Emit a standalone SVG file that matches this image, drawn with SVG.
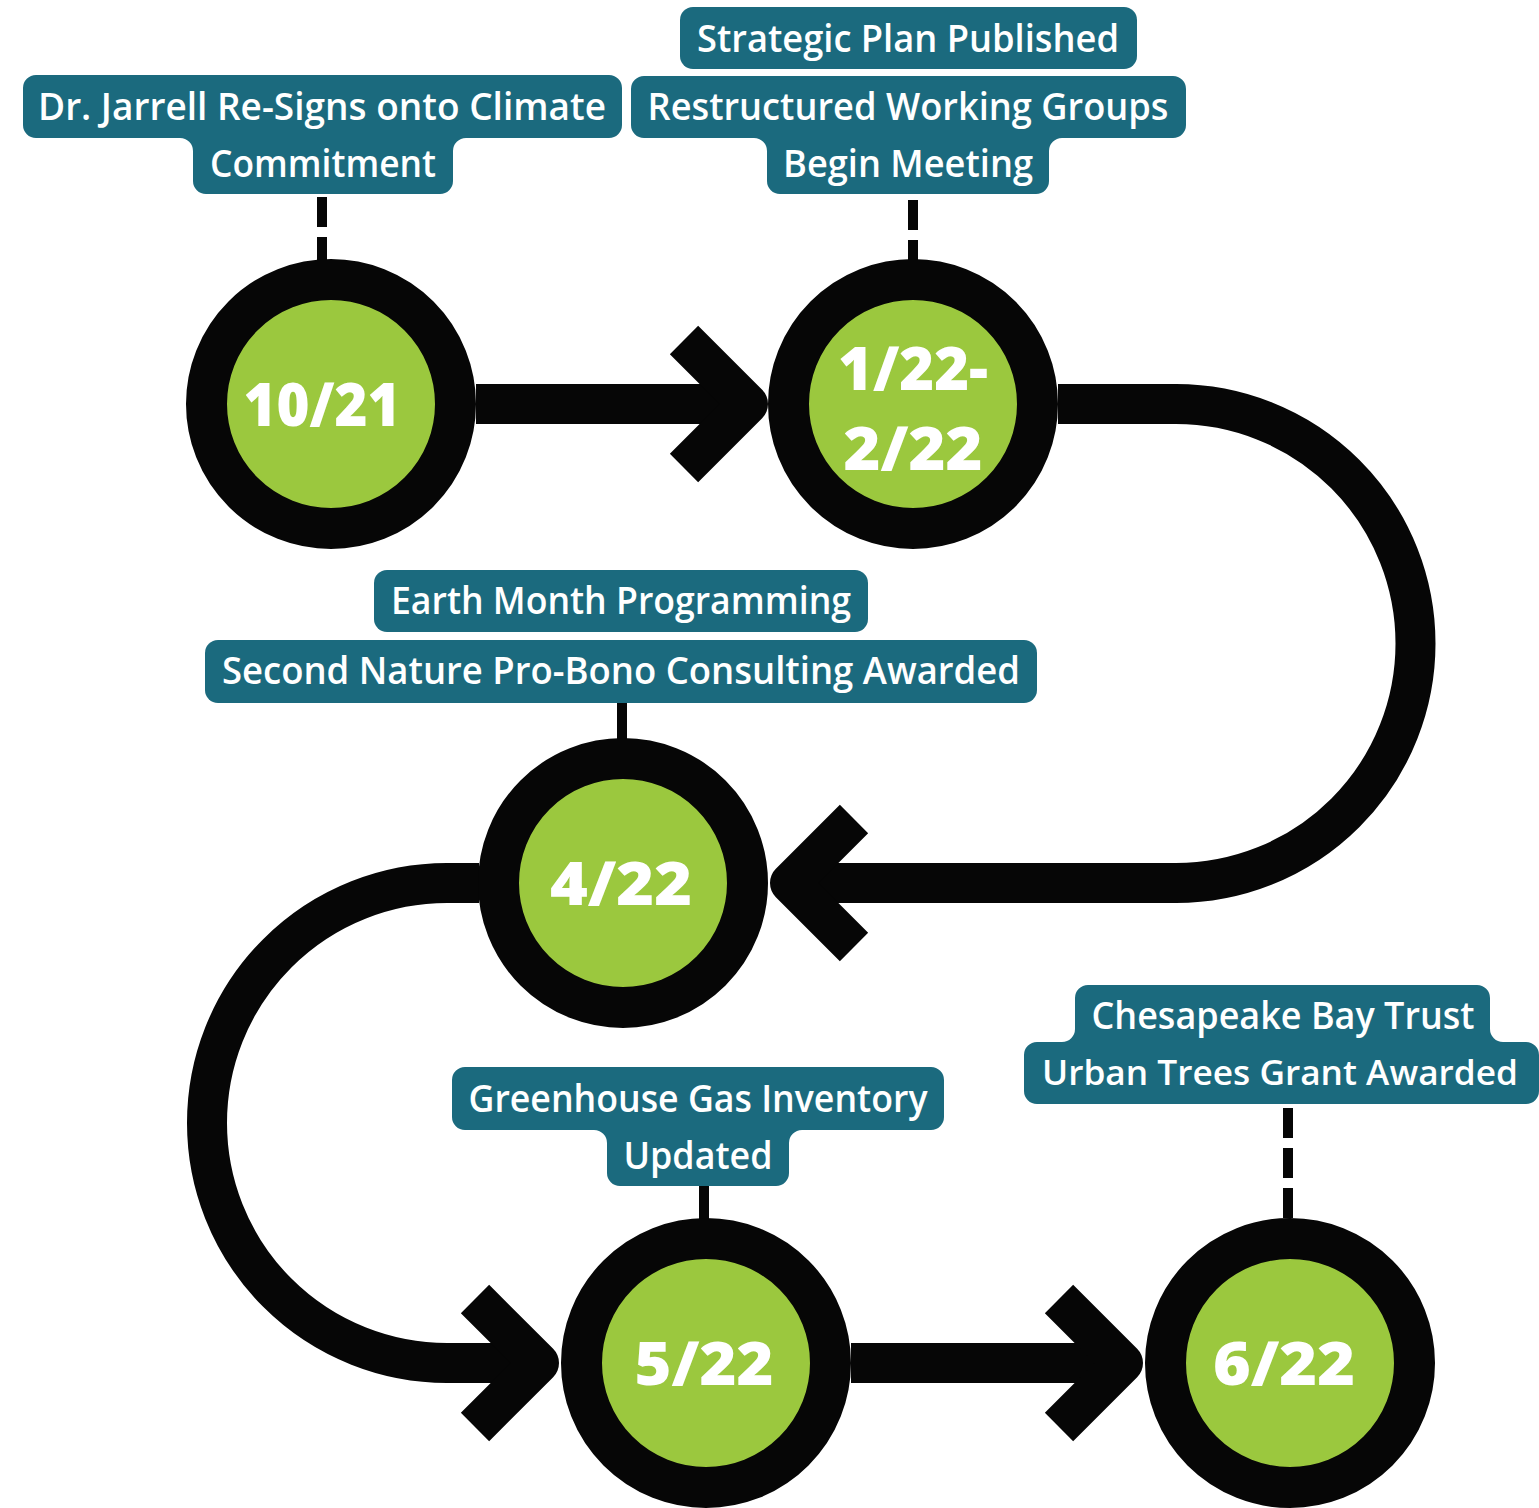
<svg xmlns="http://www.w3.org/2000/svg" width="1539" height="1508" viewBox="0 0 1539 1508">
<style>
.box{fill:#1b6a7e}
.lbl{font-family:"Open Sans","Liberation Sans",sans-serif;font-size:38px;font-weight:600;fill:#ffffff;text-anchor:middle}
.date{font-family:"Open Sans","Liberation Sans",sans-serif;font-size:60px;font-weight:800;fill:#ffffff;text-anchor:middle}
.ring{fill:#9bc83e;stroke:#060606;stroke-width:41}
.path{fill:none;stroke:#060606;stroke-width:40}
.chev{fill:none;stroke:#060606;stroke-width:40;stroke-linejoin:round;stroke-linecap:butt}
.tick{stroke:#060606;stroke-width:10}
.dash{stroke:#060606;stroke-width:10;stroke-dasharray:30 10}
</style>
<rect width="1539" height="1508" fill="#ffffff"/>
<g id="connectors">
  <path class="path" d="M476 404 H748"/>
  <path class="chev" d="M684 340 L748 404 L684 468"/>
  <path class="path" d="M1058 404 H1176 A239.5 239.5 0 0 1 1176 883 H790"/>
  <path class="chev" d="M854 819 L790 883 L854 947"/>
  <path class="path" d="M479 883 H447 A240 240 0 0 0 447 1363 H539"/>
  <path class="chev" d="M475 1299 L539 1363 L475 1427"/>
  <path class="path" d="M851 1363 H1123"/>
  <path class="chev" d="M1059 1299 L1123 1363 L1059 1427"/>
  <line class="dash" x1="322" y1="197" x2="322" y2="262"/>
  <line class="dash" x1="913" y1="200" x2="913" y2="262"/>
  <line class="tick" x1="622" y1="703" x2="622" y2="742"/>
  <line class="tick" x1="704" y1="1186" x2="704" y2="1222"/>
  <line class="dash" x1="1288" y1="1108" x2="1288" y2="1222"/>
</g>
<g id="node-1021">
  <circle class="ring" cx="331" cy="404" r="124.5"/>
  <text class="date" x="322" y="426" textLength="157" lengthAdjust="spacingAndGlyphs">10/21</text>
</g>
<g id="node-122">
  <circle class="ring" cx="913" cy="404" r="124.5"/>
  <text class="date" x="913" y="390" textLength="150" lengthAdjust="spacingAndGlyphs">1/22-</text>
  <text class="date" x="913" y="470" textLength="139" lengthAdjust="spacingAndGlyphs">2/22</text>
</g>
<g id="node-422">
  <circle class="ring" cx="623" cy="883" r="124.5"/>
  <text class="date" x="621" y="905" textLength="142" lengthAdjust="spacingAndGlyphs">4/22</text>
</g>
<g id="node-522">
  <circle class="ring" cx="706" cy="1363" r="124.5"/>
  <text class="date" x="704" y="1385" textLength="139" lengthAdjust="spacingAndGlyphs">5/22</text>
</g>
<g id="node-622">
  <circle class="ring" cx="1290" cy="1363" r="124.5"/>
  <text class="date" x="1284" y="1385" textLength="142" lengthAdjust="spacingAndGlyphs">6/22</text>
</g>
<g id="label-1">
  <path class="box" d="M36 75 H609 A13 13 0 0 1 622 88 V125 A13 13 0 0 1 609 138 H466 A13 13 0 0 0 453 151 V181 A13 13 0 0 1 440 194 H206 A13 13 0 0 1 193 181 V151 A13 13 0 0 0 180 138 H36 A13 13 0 0 1 23 125 V88 A13 13 0 0 1 36 75 Z"/>
  <text class="lbl" x="322" y="120" textLength="568" lengthAdjust="spacingAndGlyphs">Dr. Jarrell Re-Signs onto Climate</text>
  <text class="lbl" x="323" y="177" textLength="226" lengthAdjust="spacingAndGlyphs">Commitment</text>
</g>
<g id="label-2a">
  <rect class="box" x="680" y="7" width="457" height="62" rx="13"/>
  <text class="lbl" x="908" y="52" textLength="422" lengthAdjust="spacingAndGlyphs">Strategic Plan Published</text>
</g>
<g id="label-2b">
  <path class="box" d="M644 76 H1173 A13 13 0 0 1 1186 89 V125 A13 13 0 0 1 1173 138 H1062 A13 13 0 0 0 1049 151 V181 A13 13 0 0 1 1036 194 H780 A13 13 0 0 1 767 181 V151 A13 13 0 0 0 754 138 H644 A13 13 0 0 1 631 125 V89 A13 13 0 0 1 644 76 Z"/>
  <text class="lbl" x="908" y="120" textLength="521" lengthAdjust="spacingAndGlyphs">Restructured Working Groups</text>
  <text class="lbl" x="908" y="177" textLength="250" lengthAdjust="spacingAndGlyphs">Begin Meeting</text>
</g>
<g id="label-3a">
  <rect class="box" x="374" y="570" width="494" height="62" rx="13"/>
  <text class="lbl" x="621" y="614" textLength="460" lengthAdjust="spacingAndGlyphs">Earth Month Programming</text>
</g>
<g id="label-3b">
  <rect class="box" x="205" y="640" width="832" height="63" rx="13"/>
  <text class="lbl" x="621" y="684" textLength="798" lengthAdjust="spacingAndGlyphs">Second Nature Pro-Bono Consulting Awarded</text>
</g>
<g id="label-4">
  <path class="box" d="M465 1067 H931 A13 13 0 0 1 944 1080 V1117 A13 13 0 0 1 931 1130 H802 A13 13 0 0 0 789 1143 V1173 A13 13 0 0 1 776 1186 H620 A13 13 0 0 1 607 1173 V1143 A13 13 0 0 0 594 1130 H465 A13 13 0 0 1 452 1117 V1080 A13 13 0 0 1 465 1067 Z"/>
  <text class="lbl" x="698" y="1112" textLength="459" lengthAdjust="spacingAndGlyphs">Greenhouse Gas Inventory</text>
  <text class="lbl" x="698" y="1169" textLength="149" lengthAdjust="spacingAndGlyphs">Updated</text>
</g>
<g id="label-5">
  <path class="box" d="M1088 985 H1477 A13 13 0 0 1 1490 998 V1029 A13 13 0 0 0 1503 1042 H1526 A13 13 0 0 1 1539 1055 V1091 A13 13 0 0 1 1526 1104 H1037 A13 13 0 0 1 1024 1091 V1055 A13 13 0 0 1 1037 1042 H1062 A13 13 0 0 0 1075 1029 V998 A13 13 0 0 1 1088 985 Z"/>
  <text class="lbl" x="1283" y="1029" textLength="383" lengthAdjust="spacingAndGlyphs">Chesapeake Bay Trust</text>
  <text class="lbl" x="1280" y="1085" style="font-size:35px" textLength="476" lengthAdjust="spacingAndGlyphs">Urban Trees Grant Awarded</text>
</g>
</svg>
